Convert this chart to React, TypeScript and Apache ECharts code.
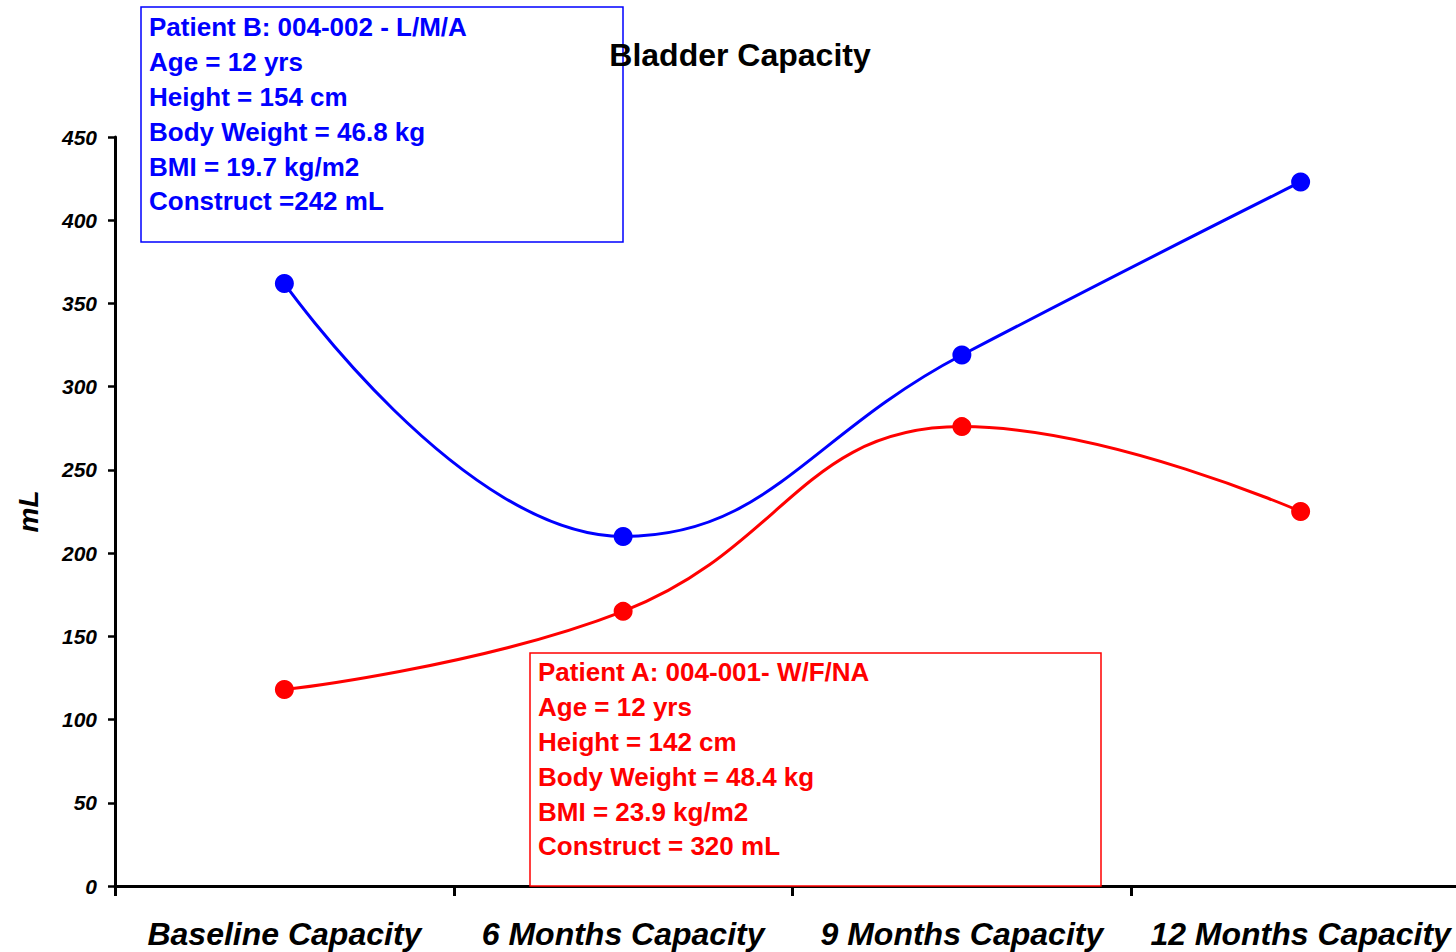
import React, { useEffect, useRef } from "react";
import * as echarts from "echarts";

// Visit time points along the category axis
const categories = ["Baseline Capacity", "6 Months Capacity", "9 Months Capacity", "12 Months Capacity"];

// Bladder capacity (mL) at each visit
const patientB = [362, 210, 319, 423];
const patientA = [118, 165, 276, 225];

// Y axis range
const yMin = 0;
const yMax = 450;
const yStep = 50;

const chartTitle = "Bladder Capacity";
const yAxisName = "mL";

// Patient detail boxes
const patientBInfo = [
  "Patient B: 004-002 - L/M/A",
  "Age = 12 yrs",
  "Height = 154 cm",
  "Body Weight = 46.8 kg",
  "BMI = 19.7 kg/m2",
  "Construct =242 mL",
];
const patientAInfo = [
  "Patient A: 004-001- W/F/NA",
  "Age = 12 yrs",
  "Height = 142 cm",
  "Body Weight = 48.4 kg",
  "BMI = 23.9 kg/m2",
  "Construct = 320 mL",
];

const BLUE = "#0000FF";
const RED = "#FF0000";
const FONT = "'Liberation Sans', Arial, sans-serif";

export default function App() {
  const ref = useRef<HTMLDivElement>(null);

  useEffect(() => {
    if (!ref.current) return;
    const chart = echarts.init(ref.current, null, { renderer: "svg" });

    const infoBox = (lines: string[], color: string, x: number, y: number, w: number, h: number, tx: number, ty: number) => [
      {
        type: "rect",
        shape: { x, y, width: w, height: h },
        style: { fill: "#fff", stroke: color, lineWidth: 1.5 },
        z: 10,
      },
      {
        type: "text",
        x: tx,
        y: ty,
        style: {
          text: lines.join("\n"),
          fill: color,
          font: `bold 26px ${FONT}`,
          lineHeight: 34.8,
          textVerticalAlign: "top",
        },
        z: 11,
      },
    ];

    chart.setOption({
      animation: false,
      backgroundColor: "#fff",
      grid: {
        left: 115,
        top: 137,
        bottom: 66,
        right: 2,
        containLabel: false,
        outerBoundsMode: "none",
      },
      xAxis: {
        type: "category",
        data: categories,
        boundaryGap: true,
        axisLine: { show: true, lineStyle: { color: "#000", width: 3 } },
        axisTick: { show: true, interval: 0, length: 10, lineStyle: { color: "#000", width: 3 } },
        axisLabel: {
          interval: 0,
          color: "#000",
          fontFamily: FONT,
          fontSize: 32,
          fontWeight: "bold",
          fontStyle: "italic",
          margin: 32,
        },
        splitLine: { show: false },
      },
      yAxis: {
        type: "value",
        min: yMin,
        max: yMax,
        interval: yStep,
        name: yAxisName,
        nameLocation: "middle",
        nameRotate: 90,
        nameGap: 73,
        nameTextStyle: {
          color: "#000",
          fontFamily: FONT,
          fontSize: 28,
          fontWeight: "bold",
          fontStyle: "italic",
        },
        axisLine: { show: true, lineStyle: { color: "#000", width: 3 } },
        axisTick: { show: true, length: 7, lineStyle: { color: "#000", width: 2.5 } },
        axisLabel: {
          color: "#000",
          fontFamily: FONT,
          fontSize: 21,
          fontWeight: "bold",
          fontStyle: "italic",
          margin: 18,
        },
        splitLine: { show: false },
      },
      series: [
        {
          name: "Patient B",
          type: "line",
          data: patientB,
          smooth: 0.45,
          symbol: "circle",
          symbolSize: 19,
          lineStyle: { color: BLUE, width: 3 },
          itemStyle: { color: BLUE },
          z: 3,
        },
        {
          name: "Patient A",
          type: "line",
          data: patientA,
          smooth: 0.45,
          symbol: "circle",
          symbolSize: 19,
          lineStyle: { color: RED, width: 3 },
          itemStyle: { color: RED },
          z: 3,
        },
      ],
      graphic: [
        ...infoBox(patientBInfo, BLUE, 141, 7, 482, 235, 149, 10),
        ...infoBox(patientAInfo, RED, 530, 653, 571, 233, 538, 655),
        {
          type: "text",
          x: 740,
          y: 55,
          style: {
            text: chartTitle,
            fill: "#000",
            font: `bold 32px ${FONT}`,
            textAlign: "center",
            textVerticalAlign: "middle",
          },
          z: 20,
        },
      ],
    });

    return () => chart.dispose();
  }, []);

  return (
    <div style={{ position: "fixed", left: 0, top: 0, width: 1456, height: 952, overflow: "hidden", background: "#fff" }}>
      <div ref={ref} style={{ width: 1472, height: 952 }} />
    </div>
  );
}
